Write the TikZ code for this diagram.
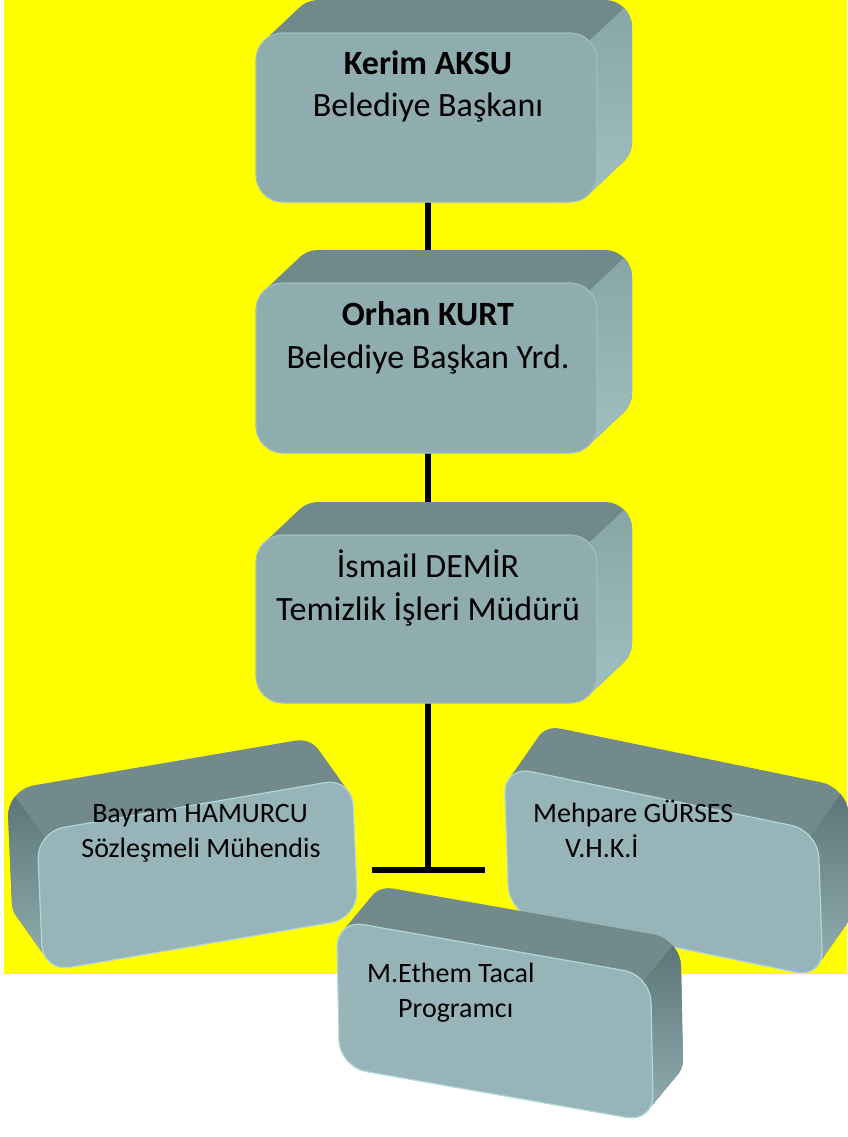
\documentclass[tikz,border=0pt]{standalone}
\usepackage{fontspec}
\setmainfont{Carlito}
\usetikzlibrary{calc}
\definecolor{bgyellow}{RGB}{255,255,0}
\definecolor{topA}{RGB}{112,137,139}
\definecolor{frontA}{RGB}{143,172,174}
\definecolor{sideAt}{RGB}{136,166,168}
\definecolor{sideAb}{RGB}{166,197,199}
\definecolor{edgeA}{RGB}{160,190,193}
\definecolor{topB}{RGB}{114,138,140}
\definecolor{frontB}{RGB}{151,181,184}
\definecolor{sideBt}{RGB}{92,118,120}
\definecolor{sideBb}{RGB}{152,180,183}
\definecolor{edgeB}{RGB}{178,214,218}
\newcommand{\rrpath}[2]{(-#1,-#2) -- (#1,-#2) -- (#1,#2) -- (-#1,#2) -- cycle}
\def\rad{27pt}
% #1 cx  #2 cy  #3 half width  #4 half height  #5 b  #6 c  #7 dx  #8 dy  #9 side sign
\newcommand{\bevbox}[9]{%
  \begin{scope}
    \clip[rounded corners=\rad] \foreach \k in {0,...,20}{ {[shift={({#1+(#7)*\k/20},{#2+(#8)*\k/20})},cm={1,#5,#6,1,(0,0)}] \rrpath{#3}{#4}} };
    \fill[topc] ({#1-400},{#2-300}) rectangle ({#1+400},{#2+300});
    \pgfmathsetmacro\px{#1+(#9)*(#3-8)+(#6)*(#4-8)}
    \pgfmathsetmacro\py{#2+(#5)*(#9)*(#3-8)+(#4-8)}
    \clip ({\px-5*(#7)},{\py-5*(#8)}) -- ({\px+5*(#7)},{\py+5*(#8)}) -- ++({(#9)*20*(#8)},{-(#9)*20*(#7)}) -- ({\px-5*(#7)+(#9)*20*(#8)},{\py-5*(#8)-(#9)*20*(#7)}) -- cycle;
    \shade[top color=sidet, bottom color=sideb] ({#1-400},{\py+#8}) rectangle ({#1+400},{#2-#4-40});
  \end{scope}
  \filldraw[fill=frontc, draw=edgec, line width=1.2pt, rounded corners=\rad] [shift={(#1,#2)},cm={1,#5,#6,1,(0,0)}] \rrpath{#3}{#4};
}
\newcommand{\styleA}{\colorlet{topc}{topA}\colorlet{frontc}{frontA}\colorlet{sidet}{sideAt}\colorlet{sideb}{sideAb}\colorlet{edgec}{edgeA}}
\newcommand{\styleB}{\colorlet{topc}{topB}\colorlet{frontc}{frontB}\colorlet{sidet}{sideBt}\colorlet{sideb}{sideBb}\colorlet{edgec}{edgeB}}
\tikzset{
  conn/.style={line width=6pt, black},
  bigtxt/.style={inner sep=0pt, anchor=base, font=\fontsize{34}{42}\selectfont},
  smalltxt/.style={inner sep=0pt, anchor=base west, font=\fontsize{28}{35}\selectfont},
  smallctr/.style={inner sep=0pt, anchor=base, font=\fontsize{28}{35}\selectfont}
}
\begin{document}
\begin{tikzpicture}[x=1pt,y=1pt]
\useasboundingbox (0,0) rectangle (847,-1137);
\fill[bgyellow] (4,0) rectangle (847,-974);
% connector anchors
\coordinate (c1) at (428,-117);
\coordinate (c2) at (428,-368);
\coordinate (c3) at (428,-619);
\coordinate (j) at (428,-870);
\coordinate (jl) at (372,-870);
\coordinate (jr) at (485,-870);
\draw[conn] (c1) -- (c2);
\draw[conn] (c2) -- (c3);
\draw[conn] (c3) -- (j);
\draw[conn] (jl) -- (jr);
% top boxes
\styleA
\bevbox{426.5}{-117.5}{170.5}{84.5}{0}{0}{35}{33}{1}
\node[bigtxt] (kerim) at (428,-75) {\bfseries Kerim AKSU};
\node[bigtxt] (kerimt) at (428,-117) {Belediye Başkanı};
\bevbox{426.5}{-368}{170.5}{85}{0}{0}{35}{33}{1}
\node[bigtxt] (orhan) at (428,-325) {\bfseries Orhan KURT};
\node[bigtxt] (orhant) at (428,-368) {Belediye Başkan Yrd.};
\bevbox{426.5}{-619}{170.5}{84}{0}{0}{35}{33}{1}
\node[bigtxt] (ismail) at (428,-577) {İsmail DEMİR};
\node[bigtxt] (ismailt) at (428,-620) {Temizlik İşleri Müdürü};
% bottom boxes
\styleB
\bevbox{197.5}{-875}{157.5}{70}{0.171}{-0.043}{-30}{42}{-1}
\node[smallctr] (bayram) at (200,-822) {Bayram HAMURCU};
\node[smallctr] (bayramt) at (201,-857) {Sözleşmeli Mühendis};
\bevbox{663.5}{-872}{157}{73.5}{-0.206}{-0.034}{30}{43}{1}
\node[smalltxt] (mehpare) at (533,-822) {Mehpare GÜRSES};
\node[smalltxt] (mehparet) at (565,-857) {V.H.K.İ};
\bevbox{495}{-1021}{157}{73.5}{-0.176}{-0.02}{30}{36}{1}
\node[smalltxt] (ethem) at (367,-982) {M.Ethem Tacal};
\node[smalltxt] (ethemt) at (398,-1017) {Programcı};
\end{tikzpicture}
\end{document}
